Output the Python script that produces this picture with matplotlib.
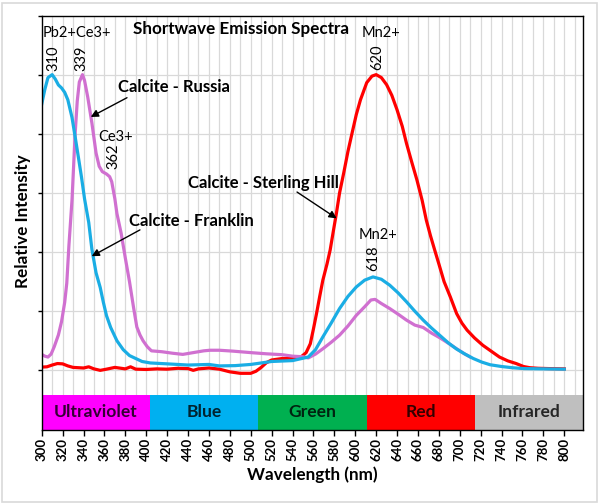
import numpy as np
import matplotlib
matplotlib.use("Agg")
import matplotlib.pyplot as plt
from matplotlib.patches import Rectangle

plt.rcParams['font.family'] = ['Lato', 'DejaVu Sans']

# ---------------- data ----------------
franklin_nm = [300, 303, 306, 310, 313, 316, 319, 322, 325, 329, 332, 335, 338, 341, 345, 348,
               352, 356, 359, 362, 366, 372, 378, 384, 390, 396, 404, 420, 440, 460, 470, 485,
               500, 510, 520, 540, 555, 562, 569, 577, 585, 593, 601, 609, 617, 625, 633, 641,
               649, 657, 665, 673, 681, 689, 697, 705, 713, 721, 729, 740, 750, 761, 780, 800]
franklin_val = [0.90, 0.95, 0.99, 1.00, 0.985, 0.965, 0.955, 0.94, 0.915, 0.855, 0.79, 0.723,
                0.655, 0.58, 0.50, 0.41, 0.33, 0.28, 0.23, 0.185, 0.145, 0.10, 0.07, 0.05,
                0.04, 0.03, 0.025, 0.022, 0.018, 0.02, 0.015, 0.016, 0.02, 0.025, 0.03, 0.033,
                0.045, 0.07, 0.113, 0.16, 0.209, 0.25, 0.282, 0.305, 0.316, 0.308, 0.288,
                0.262, 0.232, 0.20, 0.17, 0.143, 0.118, 0.093, 0.072, 0.055, 0.04, 0.028,
                0.019, 0.013, 0.009, 0.006, 0.005, 0.004]

russia_nm = [300, 303, 306, 309, 312, 316, 319, 322, 324, 326, 329, 332, 334, 336, 339, 341,
             344, 348, 352, 355, 358, 362, 365, 367, 370, 372, 376, 380, 384, 388, 391, 394,
             397, 401, 405, 415, 425, 435, 445, 455, 461, 470, 483, 500, 515, 530, 540, 550,
             555, 562, 569, 577, 585, 593, 601, 609, 615, 619, 625, 633, 641, 649, 657, 665,
             673, 681, 689, 697, 704, 710]
russia_val = [0.054, 0.048, 0.045, 0.055, 0.08, 0.12, 0.165, 0.23, 0.295, 0.42, 0.576, 0.80,
              0.91, 0.975, 1.00, 0.98, 0.925, 0.837, 0.735, 0.69, 0.672, 0.664, 0.655, 0.638,
              0.58, 0.53, 0.464, 0.38, 0.30, 0.21, 0.147, 0.12, 0.10, 0.08, 0.066, 0.063,
              0.058, 0.054, 0.06, 0.066, 0.068, 0.068, 0.065, 0.06, 0.056, 0.053, 0.048,
              0.046, 0.042, 0.055, 0.073, 0.095, 0.119, 0.15, 0.186, 0.215, 0.238, 0.24,
              0.226, 0.209, 0.19, 0.17, 0.153, 0.145, 0.126, 0.11, 0.092, 0.073, 0.057, 0.045]

sterling_nm = [300, 305, 310, 315, 320, 325, 330, 340, 345, 350, 356, 362, 370, 380, 385, 390,
               400, 410, 420, 430, 440, 445, 450, 460, 470, 480, 490, 500, 505, 510, 515, 520,
               530, 540, 548, 553, 557, 560, 563, 566, 569, 573, 576, 579, 582, 585, 589, 593,
               597, 601, 605, 611, 616, 620, 625, 630, 635, 640, 645, 649, 654, 659, 664, 668,
               672, 676, 680, 685, 691, 697, 702, 707, 714, 722, 730, 738, 746, 754, 761, 767,
               775, 785, 800]
sterling_val = [0.011, 0.012, 0.018, 0.023, 0.022, 0.015, 0.01, 0.008, 0.012, 0.005, 0.0,
                0.004, 0.01, 0.005, 0.012, 0.004, 0.003, 0.005, 0.004, 0.007, 0.006, 0.0,
                0.005, 0.008, 0.004, -0.005, -0.01, -0.01, -0.003, 0.01, 0.026, 0.035, 0.04,
                0.04, 0.045, 0.06, 0.09, 0.14, 0.193, 0.25, 0.305, 0.36, 0.407, 0.47, 0.532,
                0.60, 0.668, 0.74, 0.803, 0.865, 0.915, 0.973, 0.995, 1.00, 0.99, 0.966, 0.93,
                0.881, 0.825, 0.768, 0.705, 0.644, 0.575, 0.508, 0.455, 0.407, 0.36, 0.30,
                0.248, 0.192, 0.16, 0.136, 0.11, 0.085, 0.065, 0.045, 0.032, 0.023, 0.013,
                0.009, 0.007, 0.006, 0.005]

band_labels = ["Ultraviolet", "Blue", "Green", "Red", "Infrared"]
band_colors = ["#FF00FF", "#00B0F0", "#00B050", "#FF0000", "#BFBFBF"]
x_ticks = list(range(300, 801, 20))

# ---------------- figure ----------------
W, H = 599, 503
fig = plt.figure(figsize=(W / 100, H / 100), dpi=100)
fig.patch.set_facecolor("white")
fig.add_artist(Rectangle((1.5 / W, 1.5 / H), (W - 4) / W, (H - 4) / H,
                         transform=fig.transFigure, fill=False,
                         edgecolor="#D9D9D9", lw=1.2))

left, right, top, bottom = 41.7, 583.3, 15.5, 429.5
ax = fig.add_axes([left / W, 1 - bottom / H, (right - left) / W, (bottom - top) / H])

xmin, xmax = 300, 818.2
ymin, ymax = -0.2, 1.2
ax.set_xlim(xmin, xmax)
ax.set_ylim(ymin, ymax)

# grid
for gx in np.arange(310, 811, 10):
    ax.axvline(gx, color="#D9D9D9", lw=0.9, zorder=0)
for gy in np.arange(0, 1.01, 0.2):
    ax.axhline(gy, color="#D9D9D9", lw=0.9, zorder=0)

# colour bands
edges = np.linspace(xmin, xmax, len(band_labels) + 1)
band_top = -0.085
for i, (lab, col) in enumerate(zip(band_labels, band_colors)):
    ax.bar(edges[i], band_top - ymin, width=edges[i + 1] - edges[i], bottom=ymin,
           align="edge", color=col, edgecolor="none", zorder=2)
    ax.text((edges[i] + edges[i + 1]) / 2, (band_top + ymin) / 2, lab,
            ha="center", va="center", fontsize=12.6, fontweight="bold",
            color="black", alpha=0.8, zorder=3)

# curves
ax.plot(sterling_nm, sterling_val, color="#FF0000", lw=2.3, zorder=4)
ax.plot(russia_nm, russia_val, color="#D070D0", lw=2.3, zorder=5)
ax.plot(franklin_nm, franklin_val, color="#1AADE4", lw=2.3, zorder=6)

# axes styling
for s in ax.spines.values():
    s.set_color("black")
    s.set_linewidth(1.0)
    s.set_zorder(7)
ax.set_xticks(x_ticks)
ax.set_xticklabels([str(t) for t in x_ticks], rotation=90, fontsize=9.5,
                   fontweight="bold", color="black")
ax.set_yticks(np.arange(0, 1.21, 0.2))
ax.set_yticklabels([])
ax.tick_params(axis="x", direction="out", length=4, width=1, pad=2)
ax.tick_params(axis="y", direction="out", length=3, width=1)

# titles / labels
fig.text(241 / W, 1 - 29 / H, "Shortwave Emission Spectra", ha="center", va="center",
         fontsize=12.3, fontweight="bold", color="black")
fig.text(312 / W, 1 - 475 / H, "Wavelength (nm)", ha="center", va="center",
         fontsize=12.3, fontweight="bold", color="black")
fig.text(23 / W, 1 - 221 / H, "Relative Intensity", ha="center", va="center",
         rotation=90, fontsize=12.3, fontweight="bold", color="black")

# annotations
reg = dict(fontsize=10.5, color="black", zorder=8)
ax.text(301, 1.142, "Pb2+Ce3+", ha="left", va="center", **reg)
ax.text(311.1, 1.054, "310", ha="center", va="center", rotation=90, **reg)
ax.text(338.3, 1.054, "339", ha="center", va="center", rotation=90, **reg)
ax.text(371.1, 0.79, "Ce3+", ha="center", va="center", **reg)
ax.text(368.5, 0.725, "362", ha="center", va="center", rotation=90, **reg)
ax.text(624.6, 1.142, "Mn2+", ha="center", va="center", **reg)
ax.text(621.1, 1.059, "620", ha="center", va="center", rotation=90, **reg)
ax.text(621.8, 0.458, "Mn2+", ha="center", va="center", **reg)
ax.text(617.3, 0.38, "618", ha="center", va="center", rotation=90, **reg)

bold = dict(fontsize=12, fontweight="bold", color="black", zorder=8)
ax.text(426.6, 0.959, "Calcite - Russia", ha="center", va="center", **bold)
ax.text(443.5, 0.505, "Calcite - Franklin", ha="center", va="center", **bold)
ax.text(511.7, 0.634, "Calcite - Sterling Hill", ha="center", va="center", **bold)

arrow = dict(arrowstyle="-|>", color="black", lw=1.0, mutation_scale=11,
             shrinkA=0, shrinkB=0)
ax.annotate("", xy=(346.9, 0.857), xytext=(381.6, 0.922), arrowprops=arrow, zorder=8)
ax.annotate("", xy=(347.8, 0.386), xytext=(394.0, 0.475), arrowprops=arrow, zorder=8)
ax.annotate("", xy=(582.2, 0.514), xytext=(544.3, 0.603), arrowprops=arrow, zorder=8)

fig.savefig("out.png", dpi=100, facecolor="white")
